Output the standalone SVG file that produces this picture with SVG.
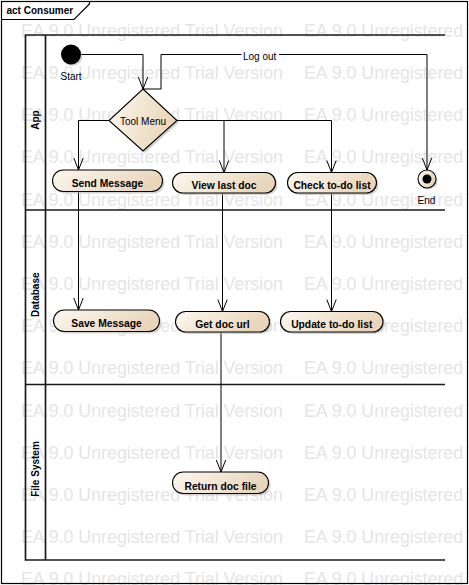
<svg xmlns="http://www.w3.org/2000/svg" width="469" height="585" viewBox="0 0 469 585">
<defs>
<linearGradient id="fillg" x1="0" y1="0" x2="1" y2="0.3">
<stop offset="0" stop-color="#fdf8f1"/>
<stop offset="1" stop-color="#e9d6ba"/>
</linearGradient>
<marker id="arr" markerUnits="userSpaceOnUse" markerWidth="14" markerHeight="12" refX="12" refY="5" orient="auto" overflow="visible">
<path d="M0,0.3 L12,5 L0,9.7" fill="none" stroke="#000" stroke-width="1"/>
</marker>
<style>
.wm{font-family:"Liberation Sans",Arial,sans-serif;font-size:17.8px;fill:#e5e5e5}
.lane{stroke:#1a1a1a;stroke-width:1.7;fill:none}
.lbl{font-family:"Liberation Sans",Arial,sans-serif;font-size:10px;font-weight:bold;fill:#000}
.txt{font-family:"Liberation Sans",Arial,sans-serif;font-size:10px;fill:#000}
.node{fill:url(#fillg);stroke:#000;stroke-width:1.1}
.shadow{fill:#b5b5b5;opacity:0.6}
.ntext{font-family:"Liberation Sans",Arial,sans-serif;font-size:10.3px;font-weight:bold;fill:#000;text-anchor:middle}
.conn path{fill:none;stroke:#000;stroke-width:1}
</style>
</defs>
<rect x="0" y="0" width="469" height="585" fill="#fff"/>
<g class="wm">
<text x="21" y="36.7">EA 9.0 Unregistered Trial Version</text><text x="304" y="36.7">EA 9.0 Unregistered Trial Version</text>
<text x="21" y="78.9">EA 9.0 Unregistered Trial Version</text><text x="304" y="78.9">EA 9.0 Unregistered Trial Version</text>
<text x="21" y="121.1">EA 9.0 Unregistered Trial Version</text><text x="304" y="121.1">EA 9.0 Unregistered Trial Version</text>
<text x="21" y="163.3">EA 9.0 Unregistered Trial Version</text><text x="304" y="163.3">EA 9.0 Unregistered Trial Version</text>
<text x="21" y="205.5">EA 9.0 Unregistered Trial Version</text><text x="304" y="205.5">EA 9.0 Unregistered Trial Version</text>
<text x="21" y="247.7">EA 9.0 Unregistered Trial Version</text><text x="304" y="247.7">EA 9.0 Unregistered Trial Version</text>
<text x="21" y="289.9">EA 9.0 Unregistered Trial Version</text><text x="304" y="289.9">EA 9.0 Unregistered Trial Version</text>
<text x="21" y="332.1">EA 9.0 Unregistered Trial Version</text><text x="304" y="332.1">EA 9.0 Unregistered Trial Version</text>
<text x="21" y="374.3">EA 9.0 Unregistered Trial Version</text><text x="304" y="374.3">EA 9.0 Unregistered Trial Version</text>
<text x="21" y="416.5">EA 9.0 Unregistered Trial Version</text><text x="304" y="416.5">EA 9.0 Unregistered Trial Version</text>
<text x="21" y="458.7">EA 9.0 Unregistered Trial Version</text><text x="304" y="458.7">EA 9.0 Unregistered Trial Version</text>
<text x="21" y="500.9">EA 9.0 Unregistered Trial Version</text><text x="304" y="500.9">EA 9.0 Unregistered Trial Version</text>
<text x="21" y="543.1">EA 9.0 Unregistered Trial Version</text><text x="304" y="543.1">EA 9.0 Unregistered Trial Version</text>
<text x="21" y="585.3">EA 9.0 Unregistered Trial Version</text><text x="304" y="585.3">EA 9.0 Unregistered Trial Version</text>
</g>
<g id="frame">
<rect x="1.5" y="1.5" width="466" height="582" fill="none" stroke="#000" stroke-width="1.2"/>
<path d="M1.5,19.5 H74 L89.5,4 V1.5" fill="none" stroke="#000" stroke-width="1.2"/>
<text class="lbl" x="6.5" y="14">act Consumer</text>
</g>
<g id="lanes">
<path class="lane" d="M445,35 H25.5 V560 H445 M45.5,35 V560 M25.5,210 H445 M25.5,384.5 H445"/>
<text class="lbl" text-anchor="middle" transform="translate(38.5,120) rotate(-90)">App</text>
<text class="lbl" text-anchor="middle" transform="translate(38.5,294.7) rotate(-90)">Database</text>
<text class="lbl" text-anchor="middle" transform="translate(38.5,469) rotate(-90)">File System</text>
</g>
<g class="conn" id="connectors">
<path d="M81,54.5 H143 V89" marker-end="url(#arr)"/>
<path d="M143,89 H161 V54.5 H427 V170" marker-end="url(#arr)"/>
<path d="M109,120.5 H78.5 V170" marker-end="url(#arr)"/>
<path d="M177,120.5 H331.5 V172.5" marker-end="url(#arr)"/>
<path d="M224,120.5 V172.5" marker-end="url(#arr)"/>
<path d="M78.5,191.5 V310" marker-end="url(#arr)"/>
<path d="M222.5,193 V311.5" marker-end="url(#arr)"/>
<path d="M331.5,193 V311.5" marker-end="url(#arr)"/>
<path d="M221,332 V472" marker-end="url(#arr)"/>
<rect x="241.5" y="49" width="37.5" height="12" fill="#fff"/>
<text class="txt" x="243" y="59.5">Log out</text>
</g>
<g id="start">
<circle cx="72.5" cy="56" r="10" fill="#b5b5b5" opacity="0.6"/>
<circle cx="71" cy="54.5" r="10" fill="#000"/>
<text class="txt" x="60.5" y="80">Start</text>
</g>
<g id="toolmenu">
<path class="shadow" d="M145,91 L179,122.5 L145,153 L111,122.5 Z"/>
<path class="node" d="M143,89 L177,120.5 L143,151 L109,120.5 Z"/>
<text class="txt" x="143" y="124.5" text-anchor="middle" font-size="10.5">Tool Menu</text>
</g>
<g id="sendmessage">
<rect class="shadow" x="54.5" y="172" width="110" height="21.5" rx="10.75"/>
<rect class="node" x="52.5" y="170" width="110" height="21.5" rx="10.75"/>
<text class="ntext" x="107.5" y="187">Send Message</text>
</g>
<g id="viewlastdoc">
<rect class="shadow" x="174.5" y="174.5" width="103" height="20.5" rx="10.25"/>
<rect class="node" x="172.5" y="172.5" width="103" height="20.5" rx="10.25"/>
<text class="ntext" x="224" y="189">View last doc</text>
</g>
<g id="checktodo">
<rect class="shadow" x="289.5" y="174.5" width="89" height="20.5" rx="10.25"/>
<rect class="node" x="287.5" y="172.5" width="89" height="20.5" rx="10.25"/>
<text class="ntext" x="332" y="189">Check to-do list</text>
</g>
<g id="end">
<circle cx="428.5" cy="180.5" r="9" fill="#b5b5b5" opacity="0.6"/>
<circle class="node" cx="427" cy="179" r="9" stroke-width="1.2"/>
<circle cx="427" cy="179" r="4.5" fill="#000"/>
<text class="txt" x="417.5" y="203.5">End</text>
</g>
<g id="savemessage">
<rect class="shadow" x="55.5" y="312" width="106" height="21.5" rx="10.75"/>
<rect class="node" x="53.5" y="310" width="106" height="21.5" rx="10.75"/>
<text class="ntext" x="106.5" y="327">Save Message</text>
</g>
<g id="getdocurl">
<rect class="shadow" x="177.5" y="313.5" width="94" height="20.5" rx="10.25"/>
<rect class="node" x="175.5" y="311.5" width="94" height="20.5" rx="10.25"/>
<text class="ntext" x="222.5" y="327.5">Get doc url</text>
</g>
<g id="updatetodo">
<rect class="shadow" x="282.5" y="313.5" width="102.5" height="20.5" rx="10.25"/>
<rect class="node" x="280.5" y="311.5" width="102.5" height="20.5" rx="10.25"/>
<text class="ntext" x="331.75" y="327.5">Update to-do list</text>
</g>
<g id="returndocfile">
<rect class="shadow" x="174.5" y="474" width="96" height="21.5" rx="10.75"/>
<rect class="node" x="172.5" y="472" width="96" height="21.5" rx="10.75"/>
<text class="ntext" x="220.5" y="489.5">Return doc file</text>
</g>
</svg>
